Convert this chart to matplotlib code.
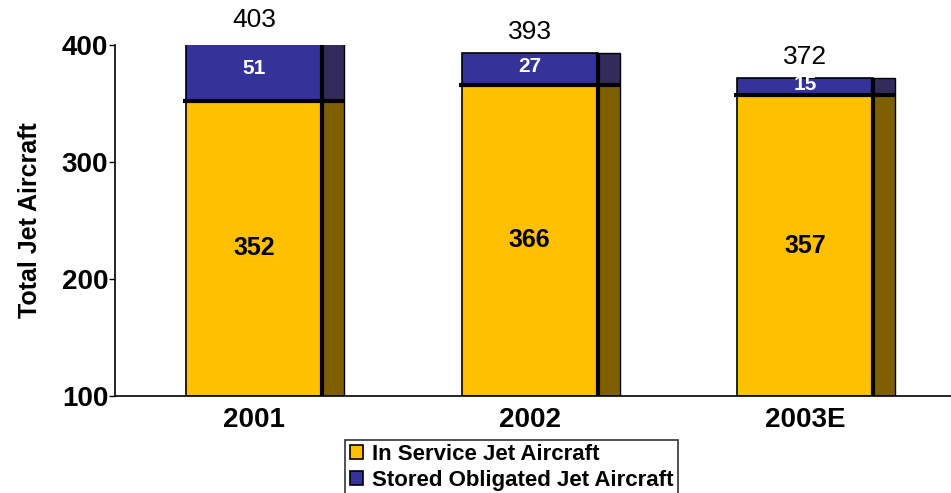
import matplotlib.pyplot as plt
import numpy as np

plt.rcParams["font.family"] = ["Liberation Sans", "DejaVu Sans"]

# --- DATA ---
years = ["2001", "2002", "2003E"]
in_service = [352, 366, 357]
stored = [51, 27, 15]
totals = [403, 393, 372]

YELLOW = "#FFC000"
YELLOW_SIDE = "#7F6000"
BLUE = "#333399"
BLUE_SIDE = "#332B5C"

FRONT_W = 0.494
SIDE_W = 0.08
FRONT_OFF = -0.287

x = np.arange(len(years))
in_service = np.array(in_service)
stored = np.array(stored)
bottom = 100

fig = plt.figure(figsize=(9.51, 4.93), dpi=100)
ax = fig.add_axes([0.121, 0.197, 0.879, 0.712])

front_left = x + FRONT_OFF
side_left = front_left + FRONT_W

# front faces
ax.bar(front_left, in_service - bottom, FRONT_W, bottom=bottom, align="edge",
       color=YELLOW, edgecolor="black", linewidth=1.2, label="In Service Jet Aircraft")
ax.bar(front_left, stored, FRONT_W, bottom=in_service, align="edge",
       color=BLUE, edgecolor="black", linewidth=1.2, label="Stored Obligated Jet Aircraft")
# side faces
ax.bar(side_left, in_service - bottom, SIDE_W, bottom=bottom, align="edge",
       color=YELLOW_SIDE, edgecolor="black", linewidth=1.0)
ax.bar(side_left, stored, SIDE_W, bottom=in_service, align="edge",
       color=BLUE_SIDE, edgecolor="black", linewidth=1.0)

# heavy divider lines
ax.hlines(in_service, front_left - 0.01, side_left + SIDE_W, color="black", linewidth=3)
ax.vlines(side_left, bottom, np.minimum(totals, 400), color="black", linewidth=3)

# labels
for xi, s, st, t in zip(x, in_service, stored, totals):
    cx = xi + FRONT_OFF + FRONT_W / 2
    ax.text(cx, (bottom + s) / 2, str(s), ha="center", va="center",
            fontsize=18, fontweight="bold")
    ax.text(cx, s + st / 2 + 2, str(st), ha="center", va="center",
            fontsize=15, fontweight="bold", color="white")
    ax.text(cx, t + 18, str(t), ha="center", va="center", fontsize=19,
            family=["DejaVu Sans Condensed", "Liberation Sans Narrow", "Liberation Sans"],
            clip_on=False)

ax.set_ylim(100, 400)
ax.set_xlim(-0.545, 2.49)
ax.set_yticks([100, 200, 300, 400])
ax.set_xticks(x + FRONT_OFF + FRONT_W / 2)
ax.set_xticklabels(years)
ax.tick_params(axis="y", labelsize=20, length=4, width=1, pad=1)
ax.tick_params(axis="x", labelsize=20, length=0, pad=8)
for lab in ax.get_xticklabels() + ax.get_yticklabels():
    lab.set_fontweight("bold")
ax.set_ylabel("Total Jet Aircraft", fontsize=18, fontweight="bold", labelpad=14)

ax.spines["top"].set_visible(False)
ax.spines["right"].set_visible(False)
ax.spines["left"].set_linewidth(1.2)
ax.spines["bottom"].set_linewidth(1.2)

leg = fig.legend(loc="upper center", bbox_to_anchor=(0.538, 0.108), ncol=1,
                 frameon=True, fancybox=False, edgecolor="black",
                 prop={"weight": "bold", "size": 16}, handlelength=0.6,
                 handleheight=0.6, handletextpad=0.4, borderpad=0.2,
                 labelspacing=0.2, borderaxespad=0)
leg.get_frame().set_linewidth(1.2)

fig.savefig("out.png", dpi=100)
